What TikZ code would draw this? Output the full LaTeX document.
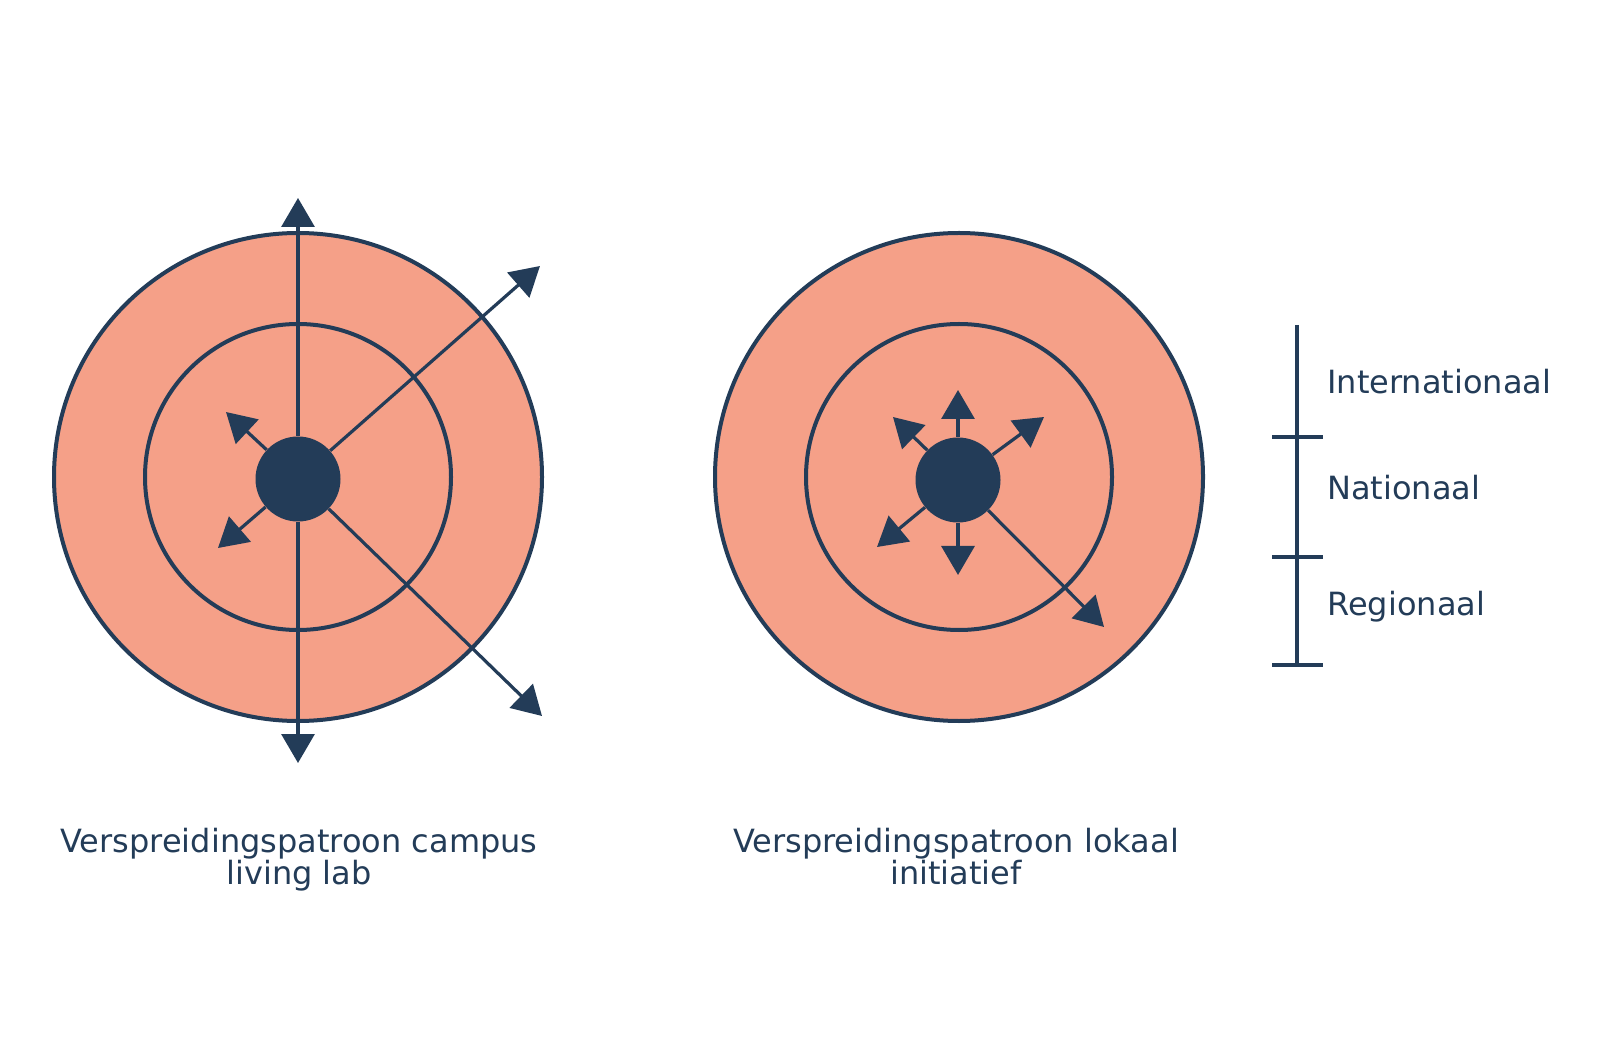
\documentclass[tikz,border=0pt]{standalone}
\usepackage{fontspec}
\setmainfont{DejaVu Sans}
\usetikzlibrary{positioning, arrows.meta}
\definecolor{navy}{RGB}{35,60,88}
\definecolor{salmon}{RGB}{245,160,136}

\begin{document}
\begin{tikzpicture}[%
    x=0.5pt, y=-0.5pt,
    every node/.style={
        font=\fontsize{16}{16}\selectfont,
        text=navy,
        inner sep=0pt,
    },
    ring/.style={circle, draw=navy, line width=2pt, fill=salmon},
    core/.style={circle, fill=navy, minimum size=42.5pt},
    spread/.style={line width=1.6pt, draw=navy, -{Triangle[length=14.5pt,width=16.5pt]}},
    tick/.style={line width=1.9pt, draw=navy},
]

\useasboundingbox (0,0) rectangle (1600,1047);

% left diagram: campus living lab
\node[ring, minimum size=244pt] (louter) at (298,477) {};
\node[ring, minimum size=153pt] (linner) at (298,477) {};
\node[core] (lcore) at (298,479) {};

\coordinate (ltop) at (298,198);
\coordinate (lbot) at (298,763);
\coordinate (lur) at (540,266);
\coordinate (llr) at (542,716);
\coordinate (lul) at (226,412);
\coordinate (lll) at (218,548);

\foreach \tip in {ltop,lbot,lur,llr,lul,lll}{
    \draw[spread] (lcore) -- (\tip);
}

% right diagram: lokaal initiatief
\node[ring, minimum size=244pt] (router) at (959,477) {};
\node[ring, minimum size=153pt] (rinner) at (959,477) {};
\node[core] (rcore) at (958,480) {};

\coordinate (rtop) at (958,390);
\coordinate (rbot) at (958,575);
\coordinate (rul) at (893,417);
\coordinate (rur) at (1044,417);
\coordinate (rll) at (877,547);
\coordinate (rlr) at (1104,627);

\foreach \tip in {rtop,rbot,rul,rur,rll,rlr}{
    \draw[spread] (rcore) -- (\tip);
}

% draw scale bar
\coordinate (stop) at (1297,325);
\coordinate (sbot) at (1297,665);
\draw[tick] (stop) -- (sbot);
\foreach \y in {437,557,665}{
    \draw[tick] (1272,\y) -- (1323,\y);
}

% place scale labels
\node[anchor=base west] (intl) at (1327,394) {Internationaal};
\node[anchor=base west] (natl) at (1327,500) {Nationaal};
\node[anchor=base west] (regl) at (1327,615) {Regionaal};

% captions
\node[align=center, anchor=north] (lcap) at (299,828) {Verspreidingspatroon campus\\living lab};
\node[align=center, anchor=north] (rcap) at (956,828) {Verspreidingspatroon lokaal\\initiatief};

\end{tikzpicture}
\end{document}
